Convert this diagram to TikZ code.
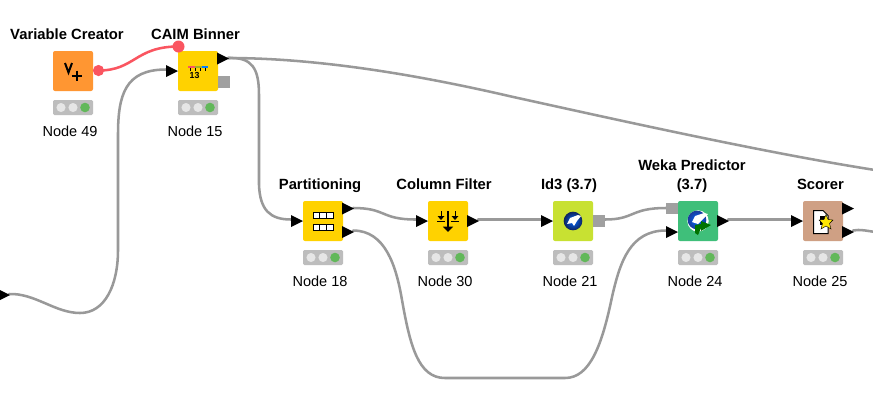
\documentclass[tikz,border=0pt]{standalone}
\usepackage{fontspec}
\setmainfont{Liberation Sans}
\usetikzlibrary{arrows.meta}
\definecolor{wire}{HTML}{999999}
\definecolor{flow}{HTML}{FA5560}
\definecolor{statusbg}{HTML}{BDBDBD}
\definecolor{lamp}{HTML}{E6E6E6}
\definecolor{lampgreen}{HTML}{62B85A}
\definecolor{cOrange}{HTML}{FF9632}
\definecolor{cYellow}{HTML}{FFD200}
\definecolor{cLime}{HTML}{C8E132}
\definecolor{cGreen}{HTML}{3FBF7A}
\definecolor{cTan}{HTML}{CFA084}
\definecolor{portgrey}{HTML}{A0A0A0}
\definecolor{wblue}{HTML}{1A3C9C}
\tikzset{
  x=0.75pt,y=-0.75pt,
  knbox/.style={minimum width=30pt,minimum height=30pt,inner sep=0pt,rounded corners=1.5pt},
  title/.style={font=\fontsize{11.1pt}{14.25pt}\selectfont\bfseries,align=center,anchor=south,inner sep=0pt},
  sub/.style={font=\fontsize{10.9pt}{12pt}\selectfont,anchor=base,inner sep=0pt},
  wire line/.style={draw=wire,line width=1.9pt,line cap=round},
  flow line/.style={draw=flow,line width=1.9pt,line cap=round},
}
% name, centre x, centre y, colour, title, subtitle, title x
\newcommand{\knnode}[7]{%
  \node[knbox,fill=#4] (#1) at (#2,#3) {};
  \node[title] (#1t) at (#7,#3-28) {#5\vphantom{g(}};
  \fill[statusbg,rounded corners=1pt] (#2-20,#3+29) rectangle (#2+20,#3+44);
  \fill[lamp] (#2-12,#3+36.5) circle[radius=3.4pt];
  \fill[lamp] (#2,#3+36.5) circle[radius=3.4pt];
  \fill[lampgreen] (#2+12,#3+36.5) circle[radius=3.6pt];
  \node[sub] (#1s) at (#2-3,#3+65) {#6};
}
\newcommand{\tri}[1]{\fill[black] ([xshift=-9pt,yshift=4.5pt]#1) -- (#1) -- ([xshift=-9pt,yshift=-4.5pt]#1) -- cycle;}
\newcommand{\sq}[1]{\fill[portgrey] ([yshift=-4.2pt]#1) rectangle ([xshift=9pt,yshift=4.2pt]#1);}
\begin{document}
\begin{tikzpicture}
\useasboundingbox (0,0) rectangle (873,405);
\clip (0,0) rectangle (873,405);
\fill[white] (0,0) rectangle (873,405);

% port positions (triangle tips / square left edges)
\coordinate (startOut) at (10,295);
\coordinate (caimIn) at (178,71);
\coordinate (caimOut) at (229,58.5);
\coordinate (caimVar) at (178.5,46.5);
\coordinate (varOut) at (98.5,70.5);
\coordinate (caimModel) at (218,82);
\coordinate (partIn) at (303,221);
\coordinate (partOutA) at (354,208.5);
\coordinate (partOutB) at (354,232);
\coordinate (colIn) at (428,221);
\coordinate (colOut) at (479,221);
\coordinate (idIn) at (553,221);
\coordinate (idOut) at (593,221);
\coordinate (wekaModel) at (666,208.5);
\coordinate (wekaIn) at (678,232);
\coordinate (wekaOut) at (729,221);
\coordinate (scIn) at (803,221);
\coordinate (scOutA) at (854,208.5);
\coordinate (scOutB) at (854,232);
\coordinate (rightA) at (875,170);
\coordinate (rightB) at (875,232);
% wire ends
\coordinate (startW) at (9,294);
\coordinate (caimInW) at (166,69.5);
\coordinate (caimOutW) at (228,58);
\coordinate (partInW) at (291,219.5);
\coordinate (partOutAW) at (353,208);
\coordinate (partOutBW) at (353,230.5);
\coordinate (colInW) at (416,219.5);
\coordinate (colOutW) at (478,219.5);
\coordinate (idInW) at (541,219.5);
\coordinate (idOutW) at (605,219.5);
\coordinate (wekaModelW) at (666,208);
\coordinate (wekaInW) at (666,230.5);
\coordinate (wekaOutW) at (728,219.5);
\coordinate (scInW) at (791,219.5);
\coordinate (scOutBW) at (853,230.5);

% connectors
\draw[wire line] (startW) .. controls (35,293) and (55,313) .. (80,313)
   .. controls (105,313) and (118,285) .. (118,250)
   -- (118,135) .. controls (118,95) and (125,69.5) .. (caimInW);
\draw[wire line] (caimOutW) .. controls (252,57) and (259,68) .. (259,95)
   -- (259,185) .. controls (260,210) and (270,219.5) .. (partInW);
\draw[wire line] (caimOutW) .. controls (330,58) and (440,80) .. (512,96.7)
   .. controls (600,116) and (760,152) .. (rightA);
\draw[wire line] (partOutAW) .. controls (387,208) and (380,219.5) .. (colInW);
\draw[wire line] (colOutW) -- (idInW);
\draw[wire line] (idOutW) .. controls (635,219.5) and (630,208) .. (wekaModelW);
\draw[wire line] (partOutBW) .. controls (385,230.5) and (396,265) .. (402,300)
   .. controls (410,345) and (418,378) .. (445,378)
   -- (565,378) .. controls (590,378) and (602,345) .. (612,297)
   .. controls (620,262) and (630,230.5) .. (wekaInW);
\draw[wire line] (wekaOutW) -- (scInW);
\draw[wire line] (scOutBW) .. controls (860,229) and (868,231) .. (rightB);
\draw[flow line] (varOut) .. controls (135,70.5) and (135,46.5) .. (caimVar);

% nodes
\knnode{varc}{73}{71}{cOrange}{Variable Creator}{Node 49}{67}
\knnode{caim}{198}{71}{cYellow}{CAIM Binner}{Node 15}{195.5}
\knnode{part}{323}{221}{cYellow}{Partitioning}{Node 18}{320}
\knnode{colf}{448}{221}{cYellow}{Column Filter}{Node 30}{444}
\knnode{idt}{573}{221}{cLime}{Id3 (3.7)}{Node 21}{569}
\knnode{weka}{698}{221}{cGreen}{Weka Predictor\\(3.7)}{Node 24}{692}
\knnode{scor}{823}{221}{cTan}{Scorer}{Node 25}{820.5}

% ports
\tri{startOut}
\tri{caimIn}\tri{caimOut}\sq{caimModel}
\tri{partIn}\tri{partOutA}\tri{partOutB}
\tri{colIn}\tri{colOut}
\tri{idIn}\sq{idOut}
\sq{wekaModel}\tri{wekaIn}\tri{wekaOut}
\tri{scIn}\tri{scOutA}\tri{scOutB}
\fill[flow] (varOut) circle[radius=4.2pt];
\fill[flow] (caimVar) circle[radius=4.5pt];

% icon: Variable Creator
\draw[line width=1.5pt,line join=miter] (65,63) -- (68.5,72.5) -- (72,63);
\draw[line width=1.6pt] (71.5,76) -- (82,76) (76.7,70.7) -- (76.7,81.3);
% icon: CAIM Binner
\fill[flow] (188,65.5) rectangle (194.5,67.5);
\fill[cLime!80!black] (194.5,65.5) rectangle (202,67.5);
\fill[blue!50!cyan] (202,65.5) rectangle (208,67.5);
\foreach \tx in {190,195,200,205}{\draw[line width=0.5pt] (\tx,67.5) -- (\tx,70.5);}
\node[font=\fontsize{6.6pt}{8pt}\selectfont\bfseries,inner sep=0pt] (caimnum) at (194.5,75.8) {13};
% icon: Partitioning
\foreach \ty in {212,224}{
  \draw[fill=white,line width=0.75pt] (313,\ty) rectangle (333,\ty+6);
  \draw[line width=0.75pt] (319.7,\ty) -- (319.7,\ty+6) (326.3,\ty) -- (326.3,\ty+6);
}
% icon: Column Filter
\draw[line width=1pt,-{Triangle[length=4pt,width=7.5pt]}] (448,211) -- (448,232);
\foreach \ax in {441,455}{
  \draw[line width=0.7pt,-{Triangle[length=3pt,width=5pt]}] (\ax,211) -- (\ax,220);
  \draw[line width=0.7pt] (\ax-4,221.5) -- (\ax+4,221.5);
}
% icon: Id3
\shade[inner color=blue!60!cyan,outer color=wblue!60!black] (573,221) circle[radius=7pt];
\fill[white] (567,224) -- (570,218) -- (578,215) -- (581,216) -- (577,221) -- (574,226) -- (572,223) -- cycle;
% icon: Weka Predictor
\fill[white] (698,221) circle[radius=8pt];
\shade[inner color=blue!60!cyan,outer color=wblue] (697,220) circle[radius=7pt];
\fill[white] (692,222) -- (695,216) -- (704,213) -- (708,214) -- (703,219) -- (698,224) -- cycle;
\fill[green!45!black] (695,225) -- (701,224) -- (701,221) -- (711,225) -- (701,231) -- (701,228) -- (698,235) -- (695,233) -- cycle;
% icon: Scorer
\draw[fill=white,line width=0.75pt] (813.5,210.5) -- (823,210.5) -- (828,215.5) -- (828,233.5) -- (813.5,233.5) -- cycle;
\fill[black] (820,216) rectangle (825,225);
\fill[yellow!90!orange,draw=black,line width=0.3pt] (826,214.5) -- (828,219.5) -- (833,220) -- (829.5,223.5) -- (831,229) -- (826,226) -- (821,229) -- (822.5,223.5) -- (819,220) -- (824,219.5) -- cycle;
\end{tikzpicture}
\end{document}
